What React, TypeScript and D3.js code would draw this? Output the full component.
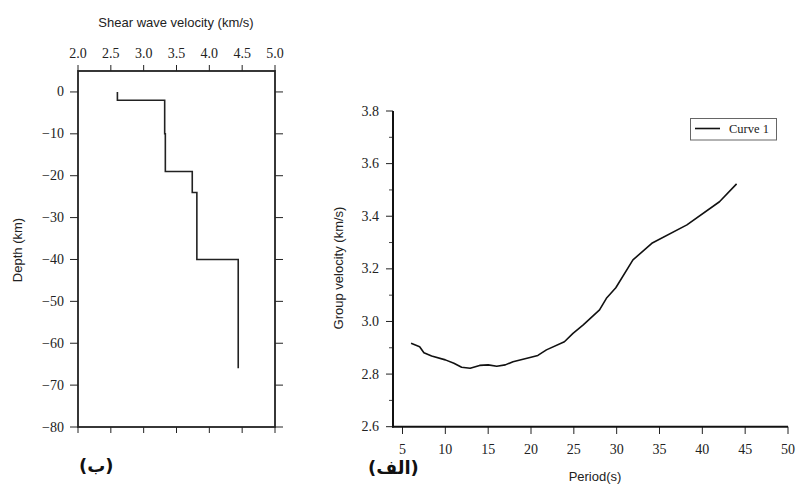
import React from "react";
import * as d3 from "d3";

// shear wave velocity profile (km/s vs depth km), step model
const profileVel = [2.6, 2.6, 3.32, 3.32, 3.33, 3.33, 3.74, 3.74, 3.81, 3.81, 4.44, 4.44];
const profileDepth = [0, -2, -2, -10, -10, -19, -19, -24, -24, -40, -40, -66];
const velTicks = [2.0, 2.5, 3.0, 3.5, 4.0, 4.5, 5.0];
const depthTicks = [0, -10, -20, -30, -40, -50, -60, -70, -80];

// group velocity dispersion curve
const periods = [6, 7, 7.5, 8.4, 10, 11, 11.9, 12.9, 14, 15, 16, 17, 17.9, 20, 20.8, 21.8, 23.9, 24.9, 26.1, 28, 28.8, 29.9, 31.9, 34.1, 38.2, 42, 44];
const groupVel = [2.917, 2.904, 2.881, 2.869, 2.854, 2.841, 2.826, 2.822, 2.833, 2.835, 2.83, 2.835, 2.847, 2.864, 2.871, 2.892, 2.923, 2.955, 2.987, 3.044, 3.088, 3.128, 3.234, 3.297, 3.367, 3.455, 3.523];
const periodTicks = [5, 10, 15, 20, 25, 30, 35, 40, 45, 50];
const gvMajor = [2.6, 2.8, 3.0, 3.2, 3.4, 3.6, 3.8];
const gvMinor = [2.7, 2.9, 3.1, 3.3, 3.5, 3.7];

const serif = "'Liberation Serif', 'Times New Roman', serif";
const sans = "'Liberation Sans', Arial, sans-serif";

export default function App() {
  // left panel
  const lx = d3.scaleLinear().domain([2, 5]).range([78, 275]);
  const ly = d3.scaleLinear().domain([5, -80]).range([71, 427]);
  const profile = d3
    .line<number>()
    .x((d, i) => lx(profileVel[i]))
    .y((d) => ly(d));

  // right panel
  const rx = d3.scaleLinear().domain([3.89, 50]).range([393, 788]);
  const ry = d3.scaleLinear().domain([2.6, 3.8]).range([426.7, 111]);
  const curve = d3
    .line<number>()
    .x((d) => rx(d))
    .y((d, i) => ry(groupVel[i]));

  const fmt = (v: number) => (v < 0 ? "\u2212" + Math.abs(v) : String(v));

  return (
    <svg width={797} height={485} style={{ position: "absolute", left: 0, top: 0, background: "#fff" }}>
      {/* ---------- left panel ---------- */}
      <text x={176} y={27} textAnchor="middle" fontFamily={sans} fontSize={13} fill="#222">
        Shear wave velocity (km/s)
      </text>
      {velTicks.map((v) => (
        <g key={"vt" + v}>
          <line x1={lx(v)} x2={lx(v)} y1={71} y2={65} stroke="#222" strokeWidth={1} />
          <line x1={lx(v)} x2={lx(v)} y1={427} y2={433} stroke="#222" strokeWidth={1} />
          <text x={lx(v)} y={58} textAnchor="middle" fontFamily={serif} fontSize={14} fill="#222">
            {v.toFixed(1)}
          </text>
        </g>
      ))}
      {depthTicks.map((d) => (
        <g key={"dt" + d}>
          <line x1={70} x2={78} y1={ly(d)} y2={ly(d)} stroke="#222" strokeWidth={1} />
          <line x1={275} x2={283} y1={ly(d)} y2={ly(d)} stroke="#222" strokeWidth={1} />
          <text x={64} y={ly(d) + 4.5} textAnchor="end" fontFamily={serif} fontSize={14} fill="#222">
            {fmt(d)}
          </text>
        </g>
      ))}
      <rect x={78} y={71} width={197} height={356} fill="none" stroke="#222" strokeWidth={1.8} />
      <path d={profile(profileDepth) || ""} fill="none" stroke="#222" strokeWidth={1.6} />
      <text
        transform="translate(22,250) rotate(-90)"
        textAnchor="middle"
        fontFamily={sans}
        fontSize={13}
        fill="#222"
      >
        Depth (km)
      </text>
      <text x={79} y={472} fontFamily="'DejaVu Sans', sans-serif" fontWeight="bold" fontSize={18} fill="#111">
        (ب)
      </text>

      {/* ---------- right panel ---------- */}
      {gvMajor.map((v) => (
        <g key={"gm" + v}>
          <line x1={386} x2={393} y1={ry(v)} y2={ry(v)} stroke="#222" strokeWidth={1} />
          <text x={379} y={ry(v) + 4.5} textAnchor="end" fontFamily={serif} fontSize={14} fill="#222">
            {v.toFixed(1)}
          </text>
        </g>
      ))}
      {gvMinor.map((v) => (
        <line key={"gn" + v} x1={389} x2={393} y1={ry(v)} y2={ry(v)} stroke="#444" strokeWidth={1} />
      ))}
      {periodTicks.map((p) => (
        <g key={"pt" + p}>
          <line x1={rx(p)} x2={rx(p)} y1={426.7} y2={434} stroke="#222" strokeWidth={1} />
          <text x={rx(p)} y={454} textAnchor="middle" fontFamily={serif} fontSize={14} fill="#222">
            {p}
          </text>
        </g>
      ))}
      <line x1={393} x2={393} y1={111} y2={427.5} stroke="#111" strokeWidth={2} />
      <line x1={392} x2={788} y1={426.7} y2={426.7} stroke="#111" strokeWidth={2} />
      <path d={curve(periods) || ""} fill="none" stroke="#111" strokeWidth={1.6} strokeLinejoin="round" />
      <text
        transform="translate(343,268) rotate(-90)"
        textAnchor="middle"
        fontFamily={sans}
        fontSize={13}
        fill="#222"
      >
        Group velocity (km/s)
      </text>
      <text x={595} y={481} textAnchor="middle" fontFamily={sans} fontSize={13} fill="#222">
        Period(s)
      </text>
      <text x={368} y={474} fontFamily="'DejaVu Sans', sans-serif" fontWeight="bold" fontSize={18} fill="#111">
        (الف)
      </text>

      {/* legend */}
      <rect x={690.5} y={118.5} width={86} height={21.5} fill="#fff" stroke="#666" strokeWidth={1} />
      <line x1={695} x2={720} y1={128.5} y2={128.5} stroke="#111" strokeWidth={1.6} />
      <text x={729} y={133} fontFamily={serif} fontSize={12.5} fill="#222">
        Curve 1
      </text>
    </svg>
  );
}
